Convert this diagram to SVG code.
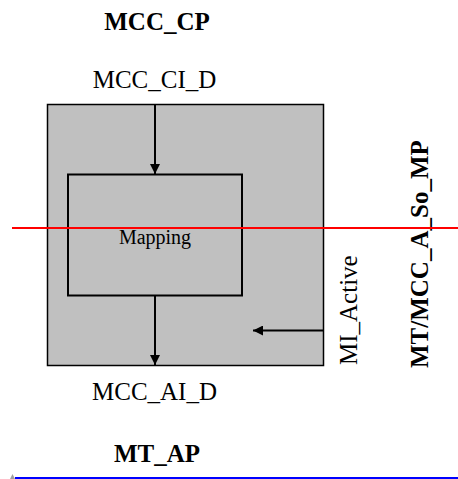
<svg xmlns="http://www.w3.org/2000/svg" width="458" height="479" viewBox="0 0 458 479">
<style>
.t{font-family:"Liberation Serif","Times New Roman",serif;font-size:25px;fill:#000}
.b{font-weight:bold}
.box{fill:#c0c0c0;stroke:#000;stroke-width:1.5}
.inner{fill:none;stroke:#000;stroke-width:2}
.con{stroke:#000;stroke-width:2;fill:none}
</style>
<defs>
<marker id="ah" viewBox="0 0 10 10" refX="10" refY="5" markerWidth="10" markerHeight="10" markerUnits="userSpaceOnUse" orient="auto">
<path d="M0,0 L10,5 L0,10 Z" fill="#000"/>
</marker>
</defs>
<rect width="458" height="479" fill="#fff"/>
<g id="outer">
<rect class="box" x="47.5" y="104.5" width="276" height="261"/>
</g>
<g id="mapping">
<rect class="inner" x="68" y="174.5" width="174" height="121"/>
<text class="t" x="155" y="243.5" text-anchor="middle" style="font-size:20px">Mapping</text>
</g>
<g id="connectors">
<line class="con" x1="155" y1="105" x2="155" y2="174" marker-end="url(#ah)"/>
<line class="con" x1="155" y1="296" x2="155" y2="365" marker-end="url(#ah)"/>
<line class="con" x1="323" y1="330.5" x2="253" y2="330.5" marker-end="url(#ah)"/>
</g>
<g id="labels">
<text class="t b" x="157" y="30" text-anchor="middle">MCC_CP</text>
<text class="t" x="154.5" y="88" text-anchor="middle">MCC_CI_D</text>
<text class="t" x="154.5" y="400" text-anchor="middle">MCC_AI_D</text>
<text class="t b" x="157" y="462" text-anchor="middle">MT_AP</text>
<text class="t" transform="translate(357,365) rotate(-90)">MI_Active</text>
<text class="t b" transform="translate(428,368) rotate(-90)">MT/MCC_A_So_MP</text>
</g>
<g id="guides">
<line x1="12" y1="228" x2="458" y2="228" stroke="#ff0000" stroke-width="2"/>
<line x1="15" y1="478" x2="458" y2="478" stroke="#0000ff" stroke-width="2"/>
<polygon points="10,479 12.5,474 15,479" fill="#a0a0a0"/>
</g>
</svg>
